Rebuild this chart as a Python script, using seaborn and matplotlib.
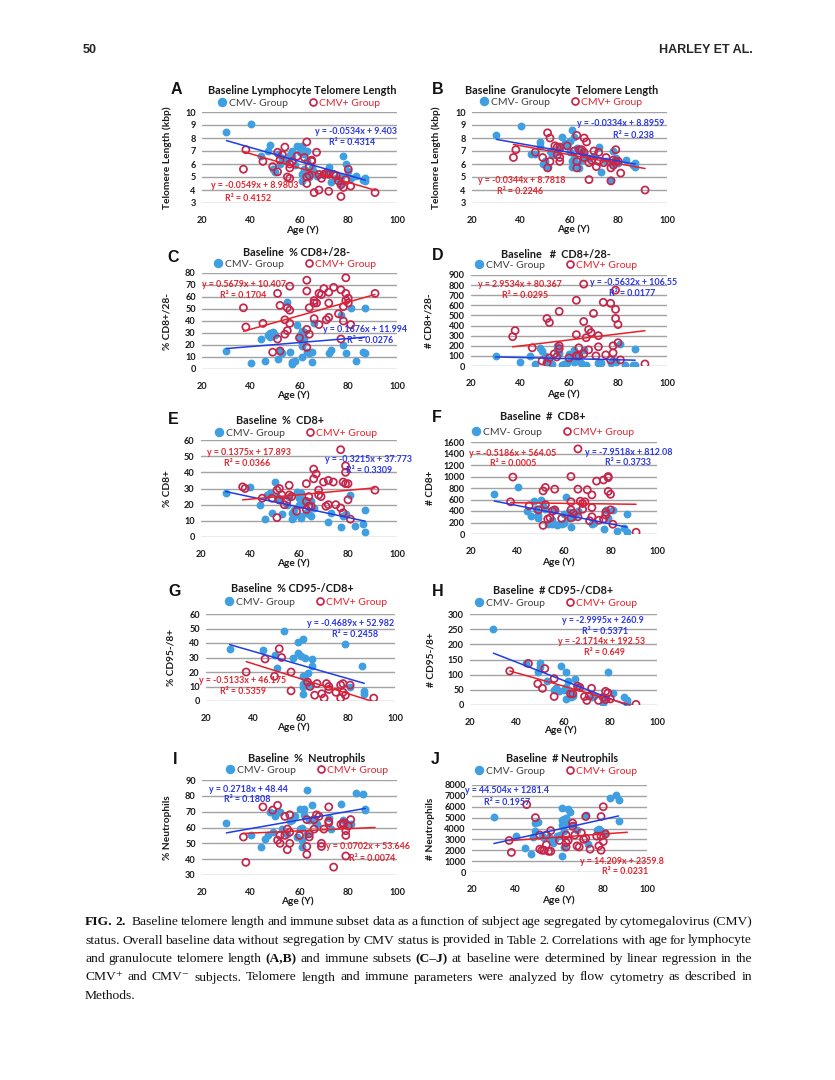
import matplotlib
matplotlib.use("Agg")
import matplotlib.pyplot as plt
import seaborn as sns
import pandas as pd
from matplotlib.lines import Line2D

# ---------------- data (age, value) ----------------
a_neg = [(30,8.5),(40,9.1),(44,6.6),(47,7.0),(48,7.5),(49,5.6),(50,5.4),(51,6.8),(52,6.0),(53,6.5),
         (55,6.2),(56,6.7),(57,7.0),(57,6.6),(58,5.9),(59,7.4),(60,6.9),(60,7.3),(61,7.4),(61,5.2),
         (61,4.7),(62,5.6),(62,6.8),(63,6.2),(63,7.0),(64,5.5),(64,5.0),(65,5.7),(66,5.4),(67,5.1),
         (70,5.2),(72,5.8),(72,5.4),(73,4.6),(75,4.9),(77,5.0),(77,4.5),(78,6.6),(79,6.0),(80,5.5),
         (81,4.9),(83,5.1),(86,4.8),(87,4.9),(87,4.7)]
a_pos = [(37,5.6),(38,7.1),(45,6.2),(49,5.8),(51,5.4),(51,6.9),(52,6.3),(53,6.7),(54,7.3),(55,5.0),
         (56,6.0),(56,4.9),(56,5.7),(57,6.2),(59,6.6),(62,6.5),(63,7.7),(63,5.0),(63,4.5),(64,5.8),
         (64,5.1),(65,6.3),(65,6.2),(66,3.8),(67,6.9),(68,4.0),(68,5.2),(69,4.9),(70,5.2),(71,5.3),
         (72,3.9),(72,5.2),(74,5.2),(75,5.1),(76,4.7),(77,3.5),(77,4.4),(78,4.2),(79,4.8),(80,5.6),
         (81,4.3),(91,3.8)]
b_neg = [(30,8.2),(40,8.9),(44,6.8),(46,6.8),(48,7.7),(48,7.4),(49,6.0),(50,6.2),(51,5.8),(52,7.0),
         (53,6.7),(55,6.9),(56,7.2),(57,8.1),(58,7.6),(59,7.4),(60,7.8),(60,6.9),(61,8.6),(61,6.2),
         (61,5.8),(62,8.1),(62,6.5),(63,7.2),(63,6.0),(64,5.7),(65,6.9),(65,6.3),(66,6.8),(68,6.5),
         (70,6.6),(72,7.3),(73,5.4),(75,6.2),(77,4.8),(78,7.0),(78,6.0),(79,6.5),(80,6.1),(83,6.3),
         (86,5.9),(87,6.1),(87,5.8)]
b_pos = [(37,6.5),(38,7.1),(46,6.9),(49,6.5),(51,8.4),(51,5.7),(52,8.0),(52,6.2),(54,7.4),(55,6.7),
         (55,7.3),(56,6.5),(56,7.3),(56,6.2),(59,7.4),(62,7.0),(63,8.2),(63,6.2),(63,5.7),(64,7.1),
         (65,7.1),(66,6.5),(66,6.9),(66,8.0),(67,7.7),(68,4.8),(68,6.1),(69,6.3),(70,7.0),(71,5.8),
         (72,6.9),(72,6.2),(74,6.1),(75,6.5),(77,5.7),(77,4.7),(78,6.3),(78,5.9),(79,7.1),(79,6.2),
         (80,6.2),(81,5.3),(91,4.0)]
c_neg = [(30,15),(40,5),(44,25),(46,7),(47,28),(48,30),(48,27),(49,31),(50,28),(51,8),(52,15),
         (53,13),(55,56),(56,14),(57,4),(57,6),(58,7),(59,37),(60,28),(60,26),(61,32),(61,22),(61,19),
         (61,10),(62,31),(62,25),(63,14),(64,13),(65,6),(65,14),(66,38),(72,13),(73,16),(77,45),
         (78,20),(79,13),(81,51),(83,7),(86,14),(87,13),(87,51)]
c_pos = [(37,51),(38,35),(45,38),(49,14),(51,63),(51,25),(52,53),(52,15),(54,29),(54,41),(55,51),
         (55,32),(56,49),(56,38),(56,69),(60,26),(63,74),(63,65),(63,33),(63,18),(64,51),(64,29),
         (66,57),(66,42),(66,55),(67,55),(68,63),(68,37),(69,62),(70,67),(71,41),(72,64),(72,55),
         (72,43),(74,68),(76,46),(77,66),(77,25),(78,52),(78,40),(79,76),(79,63),(79,57),(80,59),
         (80,55),(81,37),(91,63)]
d_neg = [(30,100),(40,40),(44,95),(46,20),(48,175),(49,150),(50,100),(51,40),(52,60),(53,20),
         (55,200),(55,160),(56,130),(57,10),(58,20),(59,30),(60,120),(61,80),(62,160),(62,110),
         (62,40),(63,50),(64,100),(65,30),(66,160),(67,10),(72,30),(73,30),(77,30),(78,60),(79,40),
         (81,220),(83,5),(86,10),(87,170),(87,5)]
d_pos = [(37,290),(38,350),(45,180),(49,50),(51,470),(51,30),(52,430),(52,80),(54,120),(55,90),
         (56,540),(56,200),(56,170),(60,80),(63,650),(63,310),(63,100),(64,100),(64,180),(66,810),
         (66,440),(66,120),(67,280),(68,360),(68,160),(69,330),(70,520),(71,100),(72,300),(72,190),
         (74,630),(75,110),(77,620),(77,60),(78,200),(78,130),(79,750),(79,560),(79,470),(80,410),
         (80,230),(81,60),(91,20)]
e_neg = [(30,27),(40,31),(44,20),(46,11),(47,26),(48,27),(49,15),(50,34),(51,25),(52,23),(53,14),
         (55,20),(56,25),(57,11),(57,15),(58,17),(58,13),(59,28),(60,24),(60,20),(61,27),(61,12),
         (61,13),(62,23),(62,21),(63,15),(64,14),(65,13),(65,22),(66,18),(72,9),(73,15),(77,6),
         (78,13),(79,14),(81,26),(83,7),(86,8),(87,17),(87,3)]
e_pos = [(37,31),(38,30),(45,24),(49,24),(51,12),(51,29),(52,23),(52,30),(53,26),(54,20),(55,22),
         (56,32),(56,26),(57,25),(59,16),(63,33),(63,22),(63,17),(64,25),(64,19),(65,19),(66,42),
         (66,36),(67,39),(68,29),(68,26),(69,25),(70,34),(71,19),(72,35),(72,20),(74,34),(75,20),
         (77,54),(77,18),(78,34),(78,15),(79,44),(79,40),(79,33),(80,33),(80,23),(81,11),(91,29)]
f_neg = [(30,700),(40,810),(44,400),(46,310),(47,580),(48,430),(49,270),(49,330),(50,600),(51,500),
         (52,430),(53,170),(55,240),(55,170),(56,410),(57,160),(58,170),(59,170),(60,350),(60,200),
         (61,650),(62,270),(62,380),(63,120),(64,300),(65,350),(66,400),(72,180),(73,200),(77,90),
         (78,420),(79,280),(81,420),(83,60),(86,110),(87,340),(87,40)]
f_pos = [(37,560),(38,990),(45,490),(49,420),(51,150),(51,750),(52,810),(52,510),(53,260),(54,280),
         (55,400),(56,780),(56,420),(59,270),(63,1000),(63,560),(63,420),(63,280),(64,360),(66,1480),
         (66,780),(66,300),(67,570),(68,430),(68,530),(69,560),(70,770),(71,230),(72,680),(72,460),
         (72,300),(74,920),(75,240),(77,940),(77,260),(78,380),(78,330),(79,980),(79,1000),(79,740),
         (80,690),(80,420),(81,170),(91,30)]
g_neg = [(30,36),(44,35),(49,32),(50,23),(53,48),(57,30),(59,41),(59,33),(60,31),(61,43),(61,17),
         (61,12),(61,10),(61,5),(62,30),(62,15),(63,19),(64,11),(65,29),(65,24),(79,39),(81,10),
         (86,24),(87,7),(87,5)]
g_pos = [(37,20),(45,29),(49,17),(51,36),(52,30),(56,20),(56,7),(63,13),(64,10),(66,4),(67,12),
         (69,5),(70,2),(71,12),(72,8),(72,10),(75,6),(77,11),(77,2),(78,6),(78,12),(79,4),(81,11),(91,2)]
h_neg = [(30,252),(44,140),(49,110),(50,140),(50,125),(53,80),(56,50),(57,55),(58,45),(59,130),
         (60,50),(61,110),(61,60),(61,20),(62,80),(63,40),(63,25),(64,30),(65,85),(66,60),(72,25),
         (73,30),(77,5),(78,20),(79,110),(81,40),(86,25),(87,15),(87,5)]
h_pos = [(37,112),(45,137),(49,70),(51,55),(52,120),(56,28),(56,87),(63,37),(64,37),(66,62),(67,58),
         (69,28),(70,15),(71,30),(72,55),(75,15),(77,25),(78,45),(78,18),(79,40),(80,20),(91,2)]
i_neg = [(30,63),(40,55),(44,48),(46,53),(47,55),(48,70),(49,57),(50,67),(50,69),(52,70),(53,59),
         (55,56),(56,64),(57,65),(58,67),(59,54),(60,72),(60,59),(61,48),(61,52),(61,60),(62,72),
         (62,68),(63,84),(63,56),(64,65),(65,74),(66,64),(67,62),(72,66),(73,59),(77,75),(78,65),
         (79,63),(81,62),(83,82),(86,81),(87,72),(87,71)]
i_pos = [(37,54),(38,38),(45,73),(49,71),(51,52),(51,74),(52,50),(52,55),(54,55),(54,67),(55,59),
         (55,46),(56,68),(56,50),(56,57),(60,55),(63,65),(63,48),(63,43),(64,56),(64,54),(66,65),
         (66,59),(67,68),(68,67),(69,48),(69,50),(70,59),(72,73),(72,64),(72,63),(74,35),(77,62),
         (78,63),(78,62),(79,58),(79,55),(79,42),(80,61),(81,65)]
j_neg = [(30,5100),(40,3300),(44,2200),(47,1700),(48,3200),(49,4500),(49,3800),(50,4600),(52,3300),
         (53,3100),(55,3200),(56,2900),(57,2700),(58,3000),(59,3300),(60,3400),(61,5900),(61,4800),
         (61,4300),(61,1500),(62,4900),(62,3800),(62,2300),(63,5000),(63,4400),(64,5800),(65,5500),
         (66,4300),(68,3900),(72,5200),(73,2600),(77,3900),(78,4000),(79,3800),(81,3600),(83,6800),
         (86,7100),(87,6600),(87,4700)]
j_pos = [(37,2900),(38,1800),(45,6200),(49,5000),(51,2100),(51,3400),(52,2000),(53,2000),(54,3400),
         (54,2500),(55,1900),(56,3800),(56,1900),(60,2900),(63,3400),(63,2700),(63,2300),(64,2900),
         (66,4500),(66,4200),(67,3400),(68,2400),(69,2300),(70,3600),(71,3000),(72,5100),(72,3100),
         (74,2100),(77,3300),(78,2400),(79,5100),(79,3300),(79,2000),(80,6000),(80,2800),(81,3500)]

# regression results shown on each panel: (slope, intercept, R2)
fit_neg = {'A': (-0.0534, 9.403, 0.4314), 'B': (-0.0334, 8.8959, 0.238), 'C': (0.1676, 11.994, 0.0276),
           'D': (-0.5632, 106.55, 0.0177), 'E': (-0.3215, 37.773, 0.3309), 'F': (-7.9518, 812.08, 0.3733),
           'G': (-0.4689, 52.982, 0.2458), 'H': (-2.9995, 260.9, 0.5371), 'I': (0.2718, 48.44, 0.1808),
           'J': (44.504, 1281.4, 0.1957)}
fit_pos = {'A': (-0.0549, 8.9803, 0.4152), 'B': (-0.0344, 8.7818, 0.2246), 'C': (0.5679, 10.407, 0.1704),
           'D': (2.9534, 80.367, 0.0295), 'E': (0.1375, 17.893, 0.0366), 'F': (-0.5186, 564.05, 0.0005),
           'G': (-0.5133, 46.175, 0.5359), 'H': (-2.1714, 192.53, 0.649), 'I': (0.0702, 53.646, 0.0074),
           'J': (14.209, 2359.8, 0.0231)}
age_range_neg = [30, 87]
age_range_pos = [37, 91]

titles = {'A': 'Baseline Lymphocyte Telomere Length', 'B': 'Baseline  Granulocyte  Telomere Length',
          'C': 'Baseline  % CD8+/28-', 'D': 'Baseline   #  CD8+/28-', 'E': 'Baseline  %  CD8+',
          'F': 'Baseline  #  CD8+', 'G': 'Baseline  % CD95-/CD8+', 'H': 'Baseline  # CD95-/CD8+',
          'I': 'Baseline  %  Neutrophils', 'J': 'Baseline  # Neutrophils'}
ylabels = {'A': 'Telomere Length (kbp)', 'B': 'Telomere Length (kbp)', 'C': '% CD8+/28-', 'D': '# CD8+/28-',
           'E': '% CD8+', 'F': '# CD8+', 'G': '% CD95-/8+', 'H': '# CD95-/8+', 'I': '% Neutrophils',
           'J': '# Neutrophils'}
yaxis = {'A': (3, 10, 1), 'B': (3, 10, 1), 'C': (0, 80, 10), 'D': (0, 900, 100), 'E': (0, 60, 10),
         'F': (0, 1600, 200), 'G': (0, 60, 10), 'H': (0, 300, 50), 'I': (30, 90, 10), 'J': (0, 8000, 1000)}
xticks = [20, 40, 60, 80, 100]
group_labels = ['CMV- Group', 'CMV+ Group']
data = {'A': (a_neg, a_pos), 'B': (b_neg, b_pos), 'C': (c_neg, c_pos), 'D': (d_neg, d_pos),
        'E': (e_neg, e_pos), 'F': (f_neg, f_pos), 'G': (g_neg, g_pos), 'H': (h_neg, h_pos),
        'I': (i_neg, i_pos), 'J': (j_neg, j_pos)}

# ---------------- layout (pixels) ----------------
layout = {
 'A': dict(box=(202,112,397,203), title=(302,90), leg=(299,103), letter=(176,90), ylab=172, xlab=(302,230),
           eq=[(0.79,0.787),(0.77,0.66),(0.27,0.19),(0.234,0.047)]),
 'B': dict(box=(472,112,667,203), title=(562,90), leg=(561,102), letter=(438,90), ylab=441, xlab=(573,229),
           eq=[(0.76,0.87),(0.83,0.743),(0.255,0.248),(0.247,0.13)]),
 'C': dict(box=(202,273,397,369), title=(297,252), leg=(295,264), letter=(173,257), ylab=172, xlab=(293,395),
           eq=[(0.835,0.41),(0.86,0.30),(0.216,0.885),(0.213,0.764)]),
 'D': dict(box=(471,275,667,366), title=(556,254), leg=(556,265), letter=(438,255), ylab=433, xlab=(563,394),
           eq=[(0.827,0.916),(0.82,0.80),(0.25,0.897),(0.276,0.78)]),
 'E': dict(box=(201,440,397,537), title=(280,420), leg=(296,433), letter=(173,420), ylab=172, xlab=(293,563),
           eq=[(0.856,0.80),(0.86,0.683),(0.246,0.87),(0.234,0.76)]),
 'F': dict(box=(471,442,657,534), title=(543,417), leg=(553,432), letter=(437,418), ylab=435, xlab=(558,562),
           eq=[(0.846,0.89),(0.845,0.778),(0.225,0.88),(0.225,0.764)]),
 'G': dict(box=(206,614,395,701), title=(292,588), leg=(306,602), letter=(175,592), ylab=175, xlab=(293,727),
           eq=[(0.765,0.896),(0.788,0.76),(0.194,0.24),(0.198,0.104)]),
 'H': dict(box=(470,614,657,705), title=(553,590), leg=(556,603), letter=(438,592), ylab=435, xlab=(560,730),
           eq=[(0.712,0.934),(0.72,0.805),(0.703,0.696),(0.72,0.575)]),
 'I': dict(box=(202,780,397,875), title=(307,759), leg=(307,770), letter=(175,760), ylab=172, xlab=(297,901),
           eq=[(0.24,0.90),(0.23,0.80),(0.85,0.30),(0.87,0.175)]),
 'J': dict(box=(472,785,647,872), title=(562,759), leg=(556,771), letter=(435,760), ylab=435, xlab=(558,900),
           eq=[(0.2,0.935),(0.2,0.80),(0.857,0.122),(0.876,0.0)]),
}

BLUE_PT = '#3f9fe0'
RED_PT = '#c4264c'
BLUE_LN = '#1f3de8'
RED_LN = '#e8202a'
BLUE_TX = '#2a36e6'
RED_TX = '#e32630'
GRID = '#a3a3a3'

sns.set_theme(style="white")
plt.rcParams['font.family'] = ['Lato', 'DejaVu Sans']

W, H = 835, 1080
fig = plt.figure(figsize=(W / 100, H / 100), dpi=100)
fig.patch.set_facecolor('white')


def fx(x):
    return x / W


def fy(y):
    return 1 - y / H


for key in 'ABCDEFGHIJ':
    L = layout[key]
    x0, y0, x1, y1 = L['box']
    ax = fig.add_axes([fx(x0), fy(y1), (x1 - x0) / W, (y1 - y0) / H])
    neg, pos = data[key]
    dneg = pd.DataFrame(neg, columns=['age', 'val'])
    dpos = pd.DataFrame(pos, columns=['age', 'val'])
    sns.scatterplot(data=dneg, x='age', y='val', ax=ax, color=BLUE_PT, s=32, linewidth=0, zorder=2,
                    legend=False)
    sns.scatterplot(data=dpos, x='age', y='val', ax=ax, color=RED_PT, s=26, zorder=2, legend=False)
    coll = ax.collections[-1]
    coll.set_facecolor('none')
    coll.set_edgecolor(RED_PT)
    coll.set_linewidth(1.25)

    for fit, rng, col in ((fit_neg[key], age_range_neg, BLUE_LN), (fit_pos[key], age_range_pos, RED_LN)):
        m, b, _ = fit
        sns.lineplot(x=rng, y=[m * rng[0] + b, m * rng[1] + b], ax=ax, color=col, lw=1.1, zorder=3)

    ymin, ymax, ystep = yaxis[key]
    ax.set_xlim(20, 100)
    ax.set_ylim(ymin, ymax)
    ax.set_xticks(xticks)
    ax.set_yticks(range(ymin, ymax + 1, ystep))
    for s in ax.spines.values():
        s.set_visible(False)
    ax.yaxis.grid(True, color=GRID, lw=1.0)
    ax.xaxis.grid(False)
    ax.set_axisbelow(True)
    ax.tick_params(axis='x', length=0, pad=9.5, labelsize=6.6, labelcolor='#1a1a1a')
    ax.tick_params(axis='y', length=0, pad=4.5, labelsize=6.6, labelcolor='#1a1a1a')
    for lab in ax.get_xticklabels() + ax.get_yticklabels():
        lab.set_fontweight('bold')

    ax.set_ylabel(ylabels[key], fontsize=7.3, fontweight='bold', color='#1a1a1a')
    ax.yaxis.set_label_coords(fx(L['ylab']), fy((y0 + y1) / 2), transform=fig.transFigure)
    ax.set_xlabel('Age (Y)', fontsize=7.3, fontweight='bold', color='#1a1a1a')
    ax.xaxis.set_label_coords(fx(L['xlab'][0]), fy(L['xlab'][1]), transform=fig.transFigure)
    ax.xaxis.label.set_va('center')

    # equations
    mn, bn, rn = fit_neg[key]
    mp, bp, rp = fit_pos[key]
    texts = [(f"y = {mn}x + {bn}", BLUE_TX), (f"R² = {rn}", BLUE_TX),
             (f"y = {mp}x + {bp}", RED_TX), (f"R² = {rp}", RED_TX)]
    for (txt, col), (ex, ey) in zip(texts, L['eq']):
        ax.text(ex, ey, txt, transform=ax.transAxes, ha='center', va='center', fontsize=6.4,
                fontweight='bold', color=col, zorder=4, clip_on=False)

    # title, letter, legend
    fig.text(fx(L['title'][0]), fy(L['title'][1]), titles[key], ha='center', va='center', fontsize=7.8,
             fontweight='bold', color='#1a1a1a')
    fig.text(fx(L['letter'][0]), fy(L['letter'][1]), key, ha='center', va='center', fontsize=11.5,
             fontweight='bold', family=['Liberation Sans', 'DejaVu Sans'], color='#111111')
    handles = [Line2D([], [], ls='', marker='o', markersize=5.8, markerfacecolor=BLUE_PT,
                      markeredgecolor=BLUE_PT, label=group_labels[0]),
               Line2D([], [], ls='', marker='o', markersize=5.0, markerfacecolor='none',
                      markeredgecolor=RED_PT, markeredgewidth=1.25, label=group_labels[1])]
    leg = ax.legend(handles=handles, loc='center', bbox_to_anchor=(fx(L['leg'][0]), fy(L['leg'][1])),
                    bbox_transform=fig.transFigure, ncol=2, frameon=False, fontsize=7.5,
                    handletextpad=0.15, columnspacing=2.0, handlelength=0.9, borderpad=0,
                    borderaxespad=0)
    leg.get_texts()[0].set_color('#404040')
    leg.get_texts()[1].set_color(RED_TX)

# header
fig.text(fx(83), fy(50), '50', ha='left', va='center', fontsize=9, fontweight='bold',
         family=['Liberation Sans', 'DejaVu Sans'])
fig.text(fx(753), fy(50), 'HARLEY ET AL.', ha='right', va='center', fontsize=9, fontweight='bold',
         family=['Liberation Sans', 'DejaVu Sans'])

# caption (justified)
cap_lines = [
    "FIG. 2. Baseline telomere length and immune subset data as a function of subject age segregated by cytomegalovirus (CMV)",
    "status. Overall baseline data without segregation by CMV status is provided in Table 2. Correlations with age for lymphocyte",
    "and granulocute telomere length (A,B) and immune subsets (C–J) at baseline were determined by linear regression in the",
    "CMV⁺ and CMV⁻ subjects. Telomere length and immune parameters were analyzed by flow cytometry as described in",
    "Methods.",
]
bold_words = {(0, 0), (0, 1)}
bold_tokens = {"(A,B)", "(C–J)"}
cap_x0, cap_x1 = 85, 752
cap_y = [922, 940.5, 959, 977.5, 996]
renderer = fig.canvas.get_renderer()
for i, line in enumerate(cap_lines):
    words = line.split(' ')
    objs = []
    for k, w in enumerate(words):
        bold = (i, k) in bold_words or w in bold_tokens
        t = fig.text(0, fy(cap_y[i]), w, fontsize=9.7, ha='left', va='center',
                     family=['Liberation Serif', 'DejaVu Serif'],
                     fontweight='bold' if bold else 'normal', color='#111111')
        objs.append(t)
    widths = [t.get_window_extent(renderer).width for t in objs]
    extra = [0.0] * len(words)
    if i == 0:
        extra[1] = 4.0
    if i < len(cap_lines) - 1 and len(words) > 1:
        gap = (cap_x1 - cap_x0 - sum(widths) - sum(extra)) / (len(words) - 1)
    else:
        gap = 3
    x = cap_x0
    for k, (t, wd) in enumerate(zip(objs, widths)):
        t.set_x(fx(x))
        x += wd + gap + extra[k]

fig.savefig('out.png', dpi=100, facecolor='white')
